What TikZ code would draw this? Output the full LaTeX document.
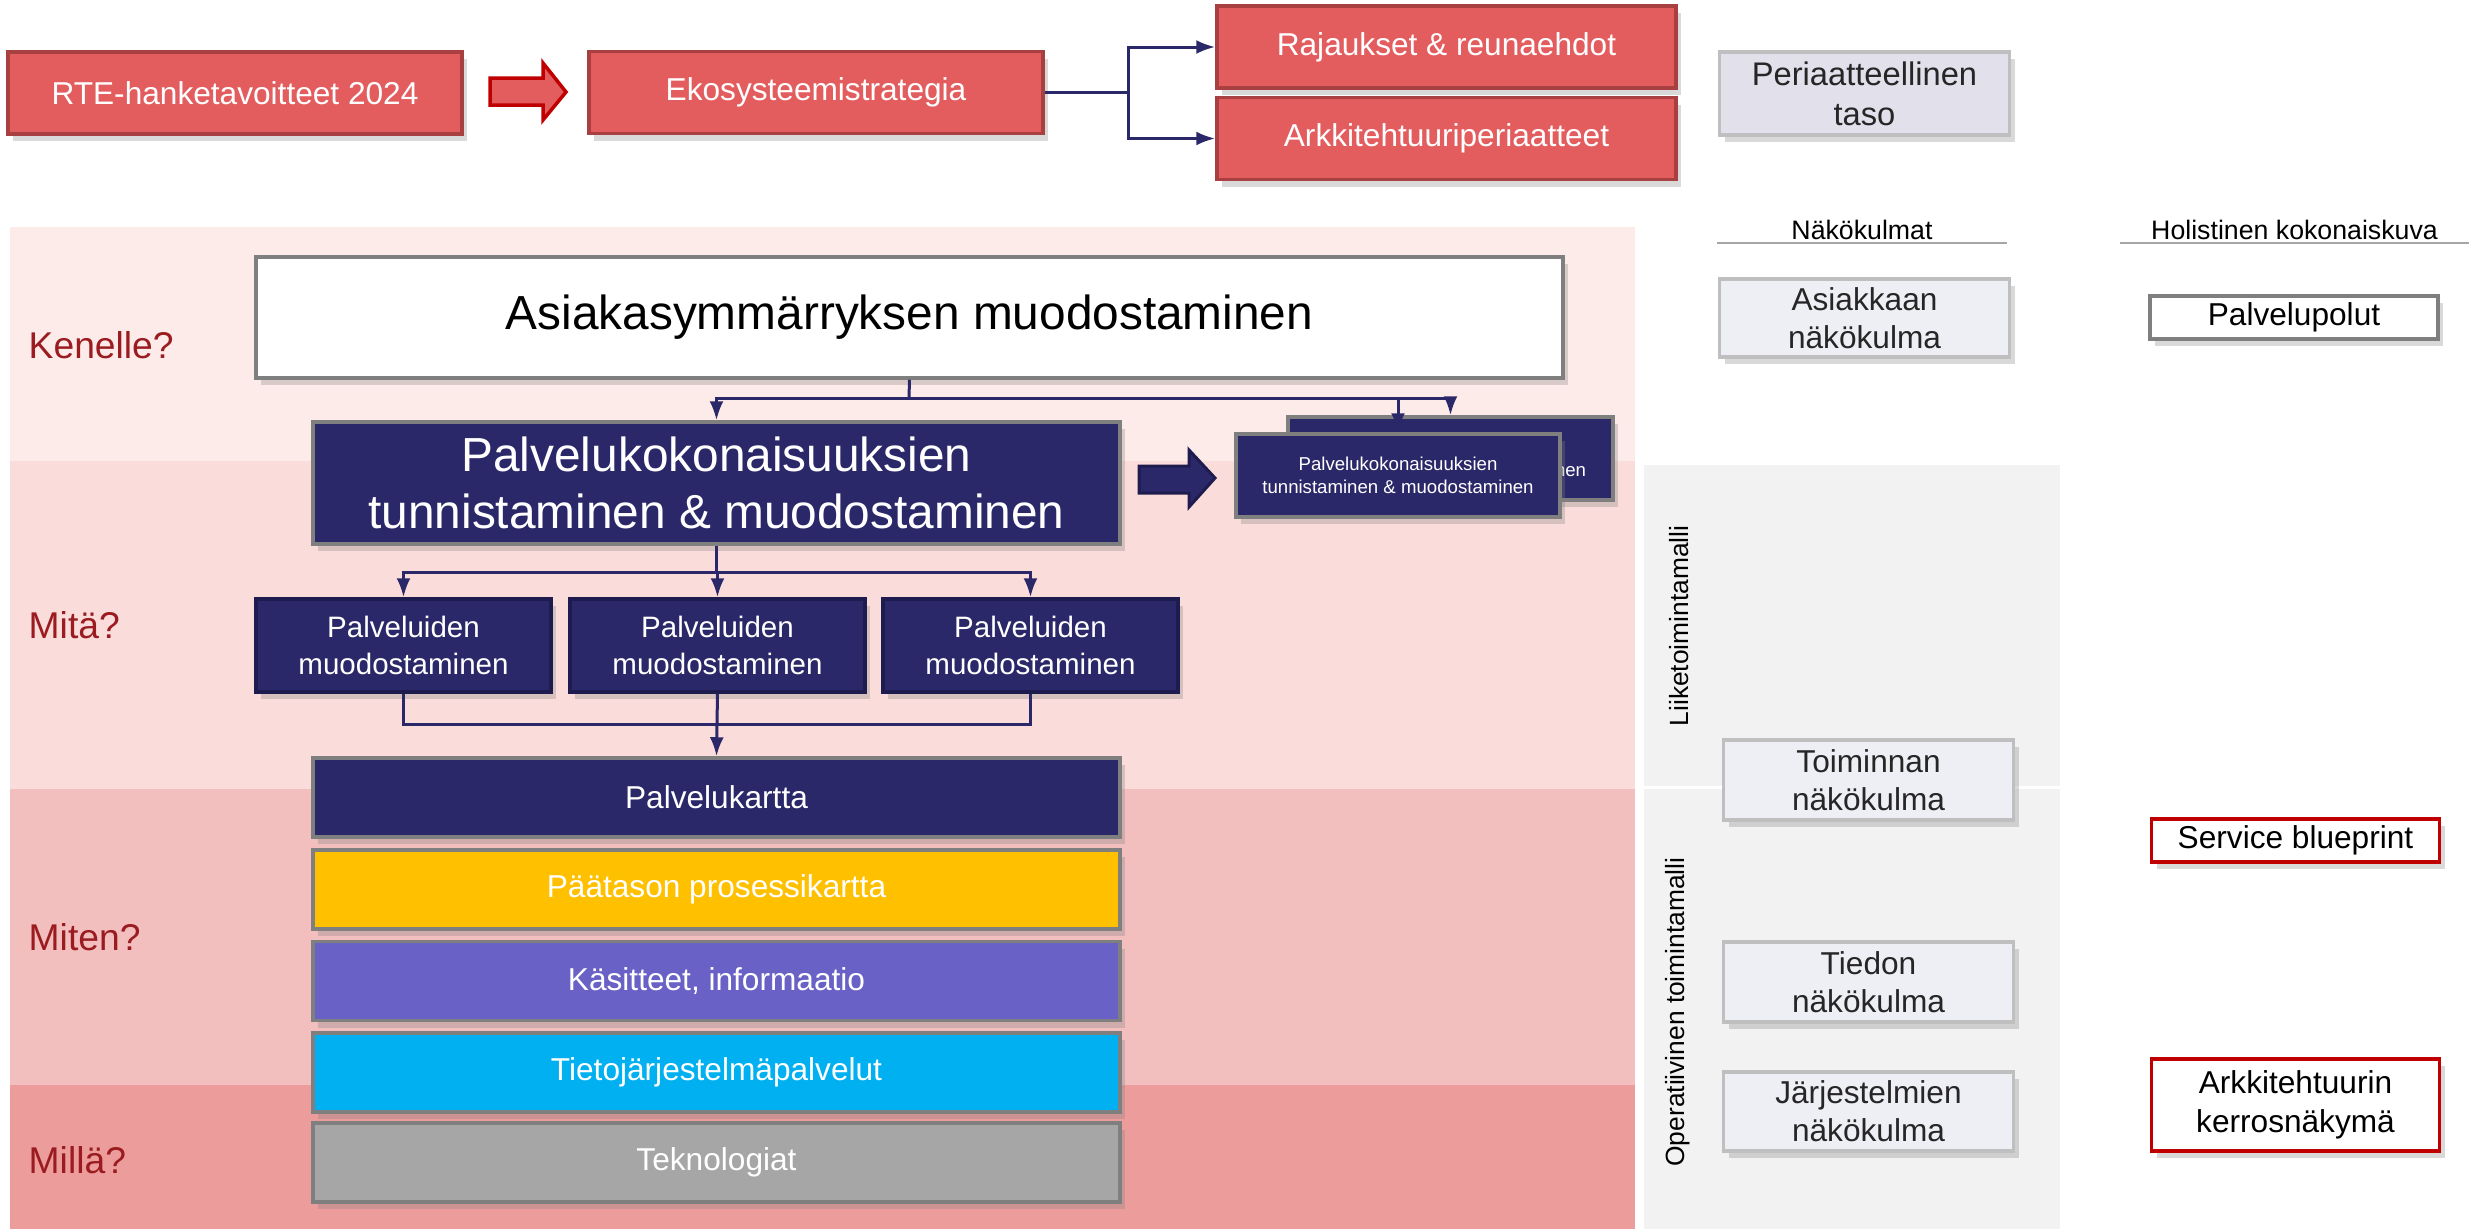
\documentclass[tikz,border=0pt]{standalone}
\usepackage{fontspec}
\setmainfont{Liberation Sans}
\usetikzlibrary{shadows,arrows.meta}

\definecolor{redfill}{HTML}{E35D5F}
\definecolor{redline}{HTML}{A84042}
\definecolor{arrowred}{HTML}{C00000}
\definecolor{navy}{HTML}{2B2869}
\definecolor{navyline}{HTML}{1E1C4E}
\definecolor{boxgray}{HTML}{7F7F7F}
\definecolor{lavdark}{HTML}{E1E0EB}
\definecolor{lavlight}{HTML}{EEEEF5}
\definecolor{lavline}{HTML}{BFBFBF}
\definecolor{qred}{HTML}{9B1C20}
\definecolor{bandA}{HTML}{FDEBE9}
\definecolor{bandB}{HTML}{FADCDA}
\definecolor{bandC}{HTML}{F2BEBE}
\definecolor{bandD}{HTML}{ED9C9C}
\definecolor{panel}{HTML}{F2F2F2}
\definecolor{layyellow}{HTML}{FFC000}
\definecolor{laypurple}{HTML}{6961C6}
\definecolor{laycyan}{HTML}{00B0F0}
\definecolor{laygray}{HTML}{A6A6A6}

\tikzset{
  box/.style={draw, line width=0.35mm, inner sep=0pt, align=center,
    font=\fontsize{9}{11}\selectfont,
    drop shadow={opacity=0.3, shadow xshift=0.5mm, shadow yshift=-0.7mm}},
  redbox/.style={box, fill=redfill, draw=redline, text=white,
    minimum width=45.4mm, minimum height=8.2mm},
  lavbox/.style={box, fill=lavlight, draw=lavline, text=black!85,
    minimum width=29mm, minimum height=8mm, font=\fontsize{9}{10.8}\selectfont},
  outbox/.style={box, fill=white, minimum width=28.8mm},
  navybox/.style={box, fill=navy, draw=boxgray, text=white},
  layer/.style={box, draw=boxgray, text=white, minimum width=80.7mm,
    minimum height=7.9mm},
  question/.style={anchor=west, inner sep=0pt, text=qred, font=\fontsize{10.6}{12}\selectfont},
  header/.style={anchor=south, inner sep=0.3mm, font=\fontsize{7.6}{9}\selectfont},
  hline/.style={draw=laygray, line width=0.2mm},
  conn/.style={draw=navy, line width=0.3mm, -{Latex[length=1.9mm, width=1.4mm]}},
  plain/.style={draw=navy, line width=0.3mm},
}

\begin{document}
\begin{tikzpicture}[x=0.1mm, y=-0.1mm]
\useasboundingbox (0,0) rectangle (2476,1231);

% bands
\fill[bandA] (10,227) rectangle (1635,461);
\fill[bandB] (10,461) rectangle (1635,789);
\fill[bandC] (10,789) rectangle (1635,1085);
\fill[bandD] (10,1085) rectangle (1635,1229);
\fill[panel] (1644,465) rectangle (2060,1229);
\draw[white, line width=0.3mm] (1644,787) -- (2060,787);

% top row
\node[redbox] (rte) at (235,93) {RTE-hanketavoitteet 2024};
\node[redbox] (eko) at (816,92.5) {Ekosysteemistrategia};
\node[redbox, minimum width=45.9mm] (raj) at (1446.5,47) {Rajaukset \& reunaehdot};
\node[redbox, minimum width=45.9mm] (ark) at (1446.5,138.5) {Arkkitehtuuriperiaatteet};
\node[lavbox, fill=lavdark, minimum height=8.3mm, font=\fontsize{9.3}{11.4}\selectfont]
  (peri) at (1864.5,93.5) {Periaatteellinen\\taso};
\filldraw[fill=redfill, draw=arrowred, line width=0.35mm]
  (490,78) -- (543,78) -- (543,63) -- (566,92) -- (543,120) -- (543,105) -- (490,105) -- cycle;
\coordinate (split) at (1128,92.5);
\draw[plain] (eko.east) -- (split);
\draw[conn] (split) |- (raj.west);
\draw[conn] (split) |- (ark.west);

% headers
\node[header, minimum width=28.8mm] (nakoh) at (1862,243) {Näkökulmat};
\node[header, minimum width=34.7mm] (holih) at (2294.5,243) {Holistinen kokonaiskuva};
\draw[hline] (nakoh.south west) -- (nakoh.south east);
\draw[hline] (holih.south west) -- (holih.south east);

% questions
\node[question] (q1) at (28,345) {Kenelle?};
\node[question] (q2) at (28,625) {Mitä?};
\node[question] (q3) at (28,937) {Miten?};
\node[question] (q4) at (28,1160) {Millä?};

% main column
\node[box, fill=white, draw=boxgray, minimum width=130.7mm, minimum height=12.1mm,
  font=\fontsize{13.6}{16}\selectfont] (asiak) at (909.5,317.5) {Asiakasymmärryksen muodostaminen};
\node[navybox, minimum width=80.7mm, minimum height=12.2mm,
  font=\fontsize{13.6}{16.2}\selectfont] (pkok) at (716.5,483)
  {Palvelukokonaisuuksien\\tunnistaminen \& muodostaminen};
\filldraw[fill=navy, draw=navyline, line width=0.3mm]
  (1139,466) -- (1189,466) -- (1189,450) -- (1215,478) -- (1189,507) -- (1189,493) -- (1139,493) -- cycle;
\node[navybox, minimum width=32.5mm, minimum height=8.3mm,
  font=\fontsize{5.3}{6.4}\selectfont] (back) at (1450.5,458.5)
  {Palvelukokonaisuuksien\\tunnistaminen \& muodostaminen};
\node[navybox, minimum width=32.4mm, minimum height=8.3mm,
  font=\fontsize{5.3}{6.4}\selectfont] (front) at (1398,475.5)
  {Palvelukokonaisuuksien\\tunnistaminen \& muodostaminen};
\coordinate (jA) at (909,398);
\draw[plain] (asiak.south) -- (jA);
\draw[conn] (jA) -| (pkok.north);
\draw[conn] (jA) -| (back.north);
\draw[conn] (jA) -| (front.north);

\node[navybox, draw=navyline, minimum width=29.5mm, minimum height=9.3mm,
  font=\fontsize{8.4}{10.4}\selectfont] (palv1) at (403.5,645.5) {Palveluiden\\muodostaminen};
\node[navybox, draw=navyline, minimum width=29.5mm, minimum height=9.3mm,
  font=\fontsize{8.4}{10.4}\selectfont] (palv2) at (717.5,645.5) {Palveluiden\\muodostaminen};
\node[navybox, draw=navyline, minimum width=29.5mm, minimum height=9.3mm,
  font=\fontsize{8.4}{10.4}\selectfont] (palv3) at (1030.5,645.5) {Palveluiden\\muodostaminen};
\coordinate (jB) at (716.5,572);
\draw[plain] (pkok.south) -- (jB);
\draw[conn] (jB) -| (palv1.north);
\draw[conn] (jB) -| (palv2.north);
\draw[conn] (jB) -| (palv3.north);

% layers
\node[layer, fill=navy] (kartta) at (716.5,797.5) {Palvelukartta};
\node[layer, fill=layyellow] (paat) at (716.5,889.5) {Päätason prosessikartta};
\node[layer, fill=laypurple] (kasit) at (716.5,981) {Käsitteet, informaatio};
\node[layer, fill=laycyan] (tieto) at (716.5,1072.5) {Tietojärjestelmäpalvelut};
\node[layer, fill=laygray] (tekno) at (716.5,1162.5) {Teknologiat};
\coordinate (jC) at (717.5,724);
\draw[plain] (palv1.south) |- (jC);
\draw[plain] (palv3.south) |- (jC);
\draw[conn] (palv2.south) -- (kartta.north);

% right side
\node[rotate=90, font=\fontsize{7.5}{9}\selectfont] (liike) at (1679,626) {Liiketoimintamalli};
\node[rotate=90, font=\fontsize{7.5}{9}\selectfont] (oper) at (1678,1012) {Operatiivinen toimintamalli};
\node[lavbox, minimum height=7.8mm] (asnako) at (1864.5,318) {Asiakkaan\\näkökulma};
\node[lavbox] (toim) at (1868.5,780) {Toiminnan\\näkökulma};
\node[lavbox] (tied) at (1868.5,982) {Tiedon\\näkökulma};
\node[lavbox, minimum height=7.9mm] (jarj) at (1868.5,1111.5) {Järjestelmien\\näkökulma};
\node[outbox, draw=boxgray, minimum height=4.3mm] (polut) at (2294,317.5) {Palvelupolut};
\node[outbox, draw=arrowred, minimum height=4.3mm] (blue) at (2295.5,840.5) {Service blueprint};
\node[outbox, draw=arrowred, minimum height=9.2mm, font=\fontsize{9}{11}\selectfont]
  (kerros) at (2295.5,1105) {Arkkitehtuurin\\kerrosnäkymä};
\end{tikzpicture}
\end{document}
